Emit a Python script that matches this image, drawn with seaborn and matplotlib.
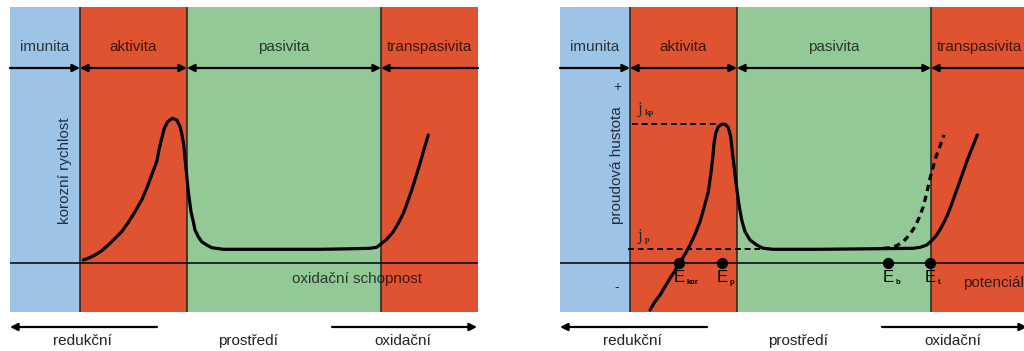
import numpy as np
import pandas as pd
import matplotlib
matplotlib.use("Agg")
import matplotlib.pyplot as plt
import seaborn as sns

# --- data (x = potential, y = current / rate, arbitrary units) ---
boundaries = [0, 70, 177, 371, 468]
region_names = ["imunita", "aktivita", "pasivita", "transpasivita"]

# left panel: corrosion rate curve
rate_x = [73.3, 78.3, 85, 91.7, 98.3, 105, 111.7, 118.3, 125, 131.7, 136.7, 141.7,
          146.7, 149, 151.7, 154.3, 157.7, 162.3, 166.7, 169.7, 171.7, 173.7, 175.7,
          178.3, 181, 183.3, 185, 188.3, 191.7, 196.7, 201.7, 213.3, 260, 310, 340,
          360, 366.7, 371.7, 376.7, 383.3, 388.3, 393.3, 397.3, 401.7, 405.7, 410,
          414, 418.3]
rate_y = [52, 53.7, 57, 61.3, 67, 73.7, 80.3, 89.7, 100.3, 112, 123.7, 137,
          150.3, 162, 173.7, 183.7, 190.3, 193.7, 192, 186.3, 178.7, 167, 147,
          120.3, 100.3, 90.3, 82, 75.3, 70.3, 67, 64.3, 62.7, 62.7, 62.7, 63.2,
          63.7, 64.7, 68.7, 72.7, 80.3, 88.7, 98.7, 109.3, 122, 134.7, 148.7,
          162.7, 177]

# right panel: polarisation curve
pol_x = [90, 95, 100, 105, 110, 115, 119.3, 125, 130, 135, 140, 144.3, 148.3,
         150.7, 152.7, 154, 155.7, 158.3, 161.7, 165.3, 168.3, 170.7, 172.3, 174.3,
         176.7, 179, 181.7, 185, 190, 196.7, 203.3, 213.3, 260, 310, 353.3, 360,
         366.7, 371.7, 376.7, 381.7, 386.7, 391.7, 396.7, 401.7, 406.7, 412, 417.3]
pol_y = [2, 10.3, 17, 25.3, 33.7, 41.3, 48.7, 57.7, 67, 77.7, 90.3, 105.3, 120.3,
         137, 153.7, 168.7, 178.7, 185.3, 187.7, 187.7, 184.3, 175.3, 160.3, 143.7,
         123.7, 107, 92, 80.3, 72, 67, 63.7, 62.7, 62.7, 63.2, 63.7, 64.7,
         67, 71.3, 77, 85.3, 95.3, 108, 122, 136, 150.3, 163.7, 177]
# dashed branch (pitting)
pit_x = [323.3, 330, 336.7, 343.3, 349.3, 355, 359.3, 363.3, 366.7, 370, 373.3,
         376, 380, 384]
pit_y = [63.7, 64.3, 66.3, 70.3, 77, 85.3, 94.7, 105.3, 118.7, 133.7, 145.3,
         155.3, 166, 177]

e_names = ["kor", "p", "b", "t"]
e_x = [119, 162, 328, 370]
zero_y = 49
j_kp = 188
j_p = 63

bottom_words = ["redukční", "prostředí", "oxidační"]

# --- style ---
sns.set_style("white")
plt.rcParams["font.family"] = ["Liberation Sans", "DejaVu Sans"]

region_colors = ["#9dc3e6", "#e05331", "#93c897", "#e05331"]
FS = 11

fig = plt.figure(figsize=(10.24, 3.51), dpi=100)
ax1 = fig.add_axes([10 / 1024, 39 / 351, 468 / 1024, 305 / 351])
ax2 = fig.add_axes([560 / 1024, 39 / 351, 468 / 1024, 305 / 351])


def draw_frame(ax):
    for i in range(4):
        ax.axvspan(boundaries[i], boundaries[i + 1], color=region_colors[i], lw=0, zorder=0)
        ax.text((boundaries[i] + boundaries[i + 1]) / 2, 265, region_names[i],
                ha="center", va="center", fontsize=FS, color="black", alpha=0.72)
    for b in boundaries[1:4]:
        ax.axvline(b, color="#222222", lw=1.1, zorder=1)
    ax.axhline(zero_y, color="black", lw=1.1, zorder=1)
    # region arrows
    ap = dict(lw=1.6, color="black", shrinkA=0, shrinkB=0, mutation_scale=11)
    ax.annotate("", xy=(boundaries[1], 244), xytext=(boundaries[0], 244),
                arrowprops=dict(arrowstyle="-|>", **ap))
    ax.annotate("", xy=(boundaries[2], 244), xytext=(boundaries[1], 244),
                arrowprops=dict(arrowstyle="<|-|>", **ap))
    ax.annotate("", xy=(boundaries[3], 244), xytext=(boundaries[2], 244),
                arrowprops=dict(arrowstyle="<|-|>", **ap))
    ax.annotate("", xy=(boundaries[3], 244), xytext=(boundaries[4], 244),
                arrowprops=dict(arrowstyle="-|>", **ap))
    # environment arrows below the panel
    ax.annotate("", xy=(0, -15), xytext=(147, -15), annotation_clip=False,
                arrowprops=dict(arrowstyle="-|>", **ap))
    ax.annotate("", xy=(467, -15), xytext=(322, -15), annotation_clip=False,
                arrowprops=dict(arrowstyle="-|>", **ap))
    for xx, w in zip([72, 238, 393], bottom_words):
        ax.text(xx, -29, w, ha="center", va="center", fontsize=FS, color="#222222",
                clip_on=False)
    ax.set_xlim(boundaries[0], boundaries[-1])
    ax.set_ylim(0, 305)
    ax.set_xticks([])
    ax.set_yticks([])
    for s in ax.spines.values():
        s.set_visible(False)


draw_frame(ax1)
draw_frame(ax2)

# left panel
df_rate = pd.DataFrame({"E": rate_x, "v": rate_y})
sns.lineplot(data=df_rate, x="E", y="v", ax=ax1, color="black", lw=2.3,
             sort=False, estimator=None, zorder=3, solid_joinstyle="round",
             solid_capstyle="round")
ax1.text(55, 141, "korozní rychlost", rotation=90, ha="center", va="center",
         fontsize=FS, color="#1f2f45")
ax1.text(347, 33, "oxidační schopnost", ha="center", va="center", fontsize=FS,
         color="black", alpha=0.72)
ax1.set_xlabel("")
ax1.set_ylabel("")

# right panel
ax2.plot([72, 158], [j_kp, j_kp], color="black", lw=1.4, ls=(0, (3, 2)), zorder=2)
ax2.plot([68, 207], [j_p, j_p], color="black", lw=1.4, ls=(0, (3, 2)), zorder=2)
df_pol = pd.DataFrame({"E": pol_x, "j": pol_y})
sns.lineplot(data=df_pol, x="E", y="j", ax=ax2, color="black", lw=2.3,
             sort=False, estimator=None, zorder=3, solid_joinstyle="round",
             solid_capstyle="round")
df_pit = pd.DataFrame({"E": pit_x, "j": pit_y})
sns.lineplot(data=df_pit, x="E", y="j", ax=ax2, color="black", lw=2.3,
             sort=False, estimator=None, zorder=3, linestyle=(0, (2, 1.5)))
df_e = pd.DataFrame({"E": e_x, "j": [zero_y] * len(e_x)})
sns.scatterplot(data=df_e, x="E", y="j", ax=ax2, color="black", s=55,
                edgecolor="black", zorder=4)
for xx, nm in zip(e_x, e_names):
    ax2.text(xx - 5, 35, "E", ha="left", va="center", fontsize=FS + 1, color="black")
    ax2.text(xx + 7.5, 30, nm, ha="left", va="center", fontsize=5.5, color="black",
             fontweight="bold")
ax2.text(77, 203, "j", family="Liberation Serif", fontsize=FS + 1, ha="left", va="center")
ax2.text(84.5, 199, "kp", family="Liberation Serif", fontsize=6, ha="left", va="center",
         fontweight="bold")
ax2.text(77, 76, "j", family="Liberation Serif", fontsize=FS + 1, ha="left", va="center")
ax2.text(84.5, 72, "p", family="Liberation Serif", fontsize=6, ha="left", va="center",
         fontweight="bold")
ax2.text(57, 225, "+", ha="center", va="center", fontsize=FS - 1, color="#1f2f45")
ax2.text(57, 25, "-", ha="center", va="center", fontsize=FS - 1, color="#1f2f45")
ax2.text(57, 147, "proudová hustota", rotation=90, ha="center", va="center",
         fontsize=FS, color="#1f2f45")
ax2.text(403, 29, "potenciál", ha="left", va="center", fontsize=FS, color="black",
         alpha=0.72)
ax2.set_xlabel("")
ax2.set_ylabel("")

fig.savefig("out.png", dpi=100)
